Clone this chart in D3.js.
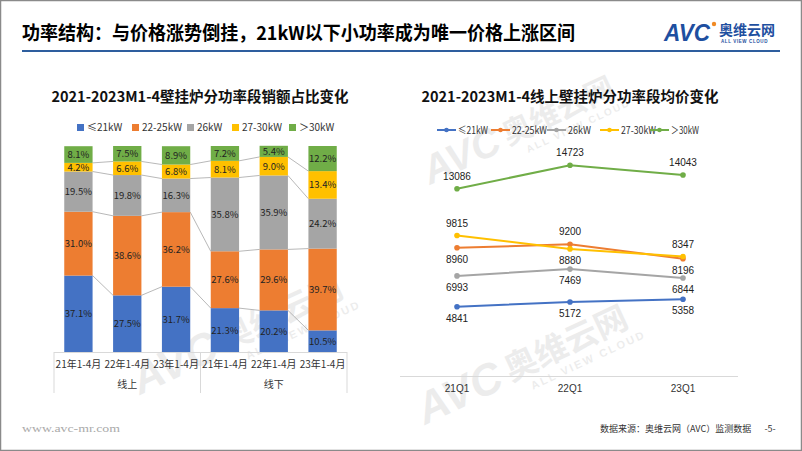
<!DOCTYPE html>
<html><head><meta charset="utf-8">
<script src="https://cdn.jsdelivr.net/npm/d3@7"></script>
<style>
html,body{margin:0;padding:0;background:#fff;}
svg{display:block;}
</style></head>
<body>
<svg id="c" width="802" height="451"></svg>
<script>
// ---- data ----
const segments = ["≤21kW","22-25kW","26kW","27-30kW","＞30kW"];
const segColors = ["#4472C4","#ED7D31","#A5A5A5","#FFC000","#70AD47"];
const barCats = ["21年1-4月","22年1-4月","23年1-4月","21年1-4月","22年1-4月","23年1-4月"];
const barGroups = ["线上","线下"];
const share_le21 = [37.1,27.5,31.7,21.3,20.2,10.5];
const share_22_25 = [31.0,38.6,36.2,27.6,29.6,39.7];
const share_26 = [19.5,19.8,16.3,35.8,35.9,24.2];
const share_27_30 = [4.2,6.6,6.8,8.1,9.0,13.4];
const share_gt30 = [8.1,7.5,8.9,7.2,5.4,12.2];
const lineCats = ["21Q1","22Q1","23Q1"];
const price_le21 = [4841,5172,5358];
const price_22_25 = [8960,9200,8196];
const price_26 = [6993,7469,6844];
const price_27_30 = [9815,8880,8347];
const price_gt30 = [13086,14723,14043];
// label placement: 1 above, -1 below
const priceLabelPos = [[-1,-1,-1],[-1,1,-1],[-1,-1,-1],[1,-1,1],[1,1,1]];

const svg = d3.select("#c");
const CJK = "'Noto Sans CJK SC','Noto Sans',sans-serif";

// frame
svg.append("rect").attr("x",0.5).attr("y",0.5).attr("width",801).attr("height",450)
  .attr("fill","#fff").attr("stroke","#8a8a8a").attr("stroke-width",1.5);

// watermarks
function watermark(x,y,s){
  const g = svg.append("g").attr("transform",`translate(${x},${y}) rotate(-25) scale(${s})`)
    .attr("opacity",0.07);
  g.append("text").attr("x",0).attr("y",0).attr("font-family","'Liberation Sans',sans-serif")
    .attr("font-weight","bold").attr("font-style","italic").attr("font-size",80).attr("fill","#000").text("AVC");
  g.append("text").attr("x",175).attr("y",-5).attr("font-family",CJK).attr("font-weight","bold")
    .attr("font-size",60).attr("fill","#000").text("奥维云网");
  g.append("text").attr("x",205).attr("y",25).attr("font-family","'Liberation Sans',sans-serif")
    .attr("font-weight","bold").attr("font-size",20).attr("letter-spacing",4).attr("fill","#000").text("ALL VIEW CLOUD");
}
watermark(140,395,0.55);
watermark(430,185,0.5);
watermark(425,425,0.55);

// header
svg.append("text").attr("x",22).attr("y",40).attr("font-family",CJK).attr("font-weight","bold")
  .attr("font-size",19).attr("fill","#000").attr("textLength",553).attr("lengthAdjust","spacingAndGlyphs")
  .text("功率结构：与价格涨势倒挂，21kW以下小功率成为唯一价格上涨区间");
svg.append("line").attr("x1",22).attr("x2",780).attr("y1",51).attr("y2",51)
  .attr("stroke","#2E5E9E").attr("stroke-width",2);
// logo
svg.append("text").attr("x",664).attr("y",41).attr("font-family","'Liberation Sans',sans-serif")
  .attr("font-weight","bold").attr("font-style","italic").attr("font-size",24).attr("fill","#1E4FA0")
  .attr("textLength",46).attr("lengthAdjust","spacingAndGlyphs").text("AVC");
svg.append("circle").attr("cx",714).attr("cy",24).attr("r",2.2).attr("fill","#F08A24");
svg.append("text").attr("x",719).attr("y",35).attr("font-family",CJK).attr("font-weight","bold")
  .attr("font-size",14).attr("fill","#1E4FA0").text("奥维云网");
svg.append("text").attr("x",721).attr("y",43).attr("font-family","'Liberation Sans',sans-serif")
  .attr("font-weight","bold").attr("font-size",4.5).attr("letter-spacing",0.6).attr("fill","#1E4FA0").text("ALL VIEW CLOUD");

// ---------- left stacked bar chart ----------
svg.append("text").attr("x",200).attr("y",102).attr("text-anchor","middle").attr("font-family",CJK)
  .attr("font-weight","bold").attr("font-size",14.5).attr("fill","#111").text("2021-2023M1-4壁挂炉分功率段销额占比变化");

const shareSeries = [share_le21,share_22_25,share_26,share_27_30,share_gt30];
const barRows = barCats.map((c,i)=>{const o={i};segments.forEach((s,k)=>o[s]=shareSeries[k][i]);return o;});
const stack = d3.stack().keys(segments)(barRows);
const xb = d3.scaleBand().domain(d3.range(barCats.length)).range([54,347]).paddingInner(0.42).paddingOuter(0.21);
const yb = d3.scaleLinear().domain([0,100]).range([352,146]);

// legend
const legX = [77,132,187,232,289];
segments.forEach((s,k)=>{
  svg.append("rect").attr("x",legX[k]).attr("y",124).attr("width",7).attr("height",7).attr("fill",segColors[k]);
  svg.append("text").attr("x",legX[k]+10).attr("y",131).attr("font-family",CJK).attr("font-size",10)
    .attr("fill","#333").text(s);
});

// series lines
const bw = xb.bandwidth();
stack.forEach((layer,k)=>{
  if(k===stack.length-1) return;
  for(let i=0;i<layer.length-1;i++){
    svg.append("line").attr("x1",xb(i)+bw).attr("x2",xb(i+1))
      .attr("y1",yb(layer[i][1])).attr("y2",yb(layer[i+1][1]))
      .attr("stroke","#A6A6A6").attr("stroke-width",0.8);
  }
});
stack.forEach((layer,k)=>{
  const g = svg.append("g");
  g.selectAll("rect").data(layer).join("rect")
    .attr("x",(d,i)=>xb(i)).attr("width",bw)
    .attr("y",d=>yb(d[1])).attr("height",d=>yb(d[0])-yb(d[1]))
    .attr("fill",segColors[k]);
  g.selectAll("text").data(layer).join("text")
    .attr("x",(d,i)=>xb(i)+bw/2).attr("y",d=>(yb(d[0])+yb(d[1]))/2+3.5)
    .attr("text-anchor","middle").attr("font-family",CJK).attr("font-size",9.5).attr("fill","#222")
    .text(d=>(d[1]-d[0]).toFixed(1)+"%");
});
// category axis
svg.append("line").attr("x1",54).attr("x2",347).attr("y1",352.5).attr("y2",352.5).attr("stroke","#D9D9D9");
[54,200.5,347].forEach(x=>svg.append("line").attr("x1",x).attr("x2",x).attr("y1",352).attr("y2",393)
  .attr("stroke","#D9D9D9"));
barCats.forEach((c,i)=>svg.append("text").attr("x",xb(i)+bw/2).attr("y",368).attr("text-anchor","middle")
  .attr("font-family",CJK).attr("font-size",10).attr("fill","#333").text(c));
barGroups.forEach((g,j)=>svg.append("text").attr("x",(xb(j*3+1)+bw/2)).attr("y",388).attr("text-anchor","middle")
  .attr("font-family",CJK).attr("font-size",10).attr("fill","#333").text(g));

// ---------- right line chart ----------
svg.append("text").attr("x",570).attr("y",102).attr("text-anchor","middle").attr("font-family",CJK)
  .attr("font-weight","bold").attr("font-size",14.5).attr("fill","#111").text("2021-2023M1-4线上壁挂炉分功率段均价变化");
const xl = d3.scalePoint().domain(lineCats).range([457,683]);
const yl = d3.scaleLinear().domain([0,16000]).range([376,147]);
svg.append("line").attr("x1",400).attr("x2",738).attr("y1",376.5).attr("y2",376.5).attr("stroke","#D9D9D9");
lineCats.forEach(c=>svg.append("text").attr("x",xl(c)).attr("y",392).attr("text-anchor","middle")
  .attr("font-family","'Liberation Sans',sans-serif").attr("font-size",10).attr("fill","#333").text(c));

const lineLegX = [437,491,547,600,650];
const lineLegW = [30,35,23,35,28];
segments.forEach((s,k)=>{
  svg.append("line").attr("x1",lineLegX[k]).attr("x2",lineLegX[k]+19).attr("y1",130).attr("y2",130)
    .attr("stroke",segColors[k]).attr("stroke-width",2);
  svg.append("circle").attr("cx",lineLegX[k]+9.5).attr("cy",130).attr("r",2.3).attr("fill",segColors[k]);
  svg.append("text").attr("x",lineLegX[k]+21).attr("y",133.8).attr("font-family",CJK).attr("font-size",10.5)
    .attr("textLength",lineLegW[k]).attr("lengthAdjust","spacingAndGlyphs")
    .attr("fill","#333").text(s);
});
const priceSeries = [price_le21,price_22_25,price_26,price_27_30,price_gt30];
const lineGen = d3.line().x((d,i)=>xl(lineCats[i])).y(d=>yl(d));
priceSeries.forEach((vals,k)=>{
  svg.append("path").attr("d",lineGen(vals)).attr("fill","none").attr("stroke",segColors[k]).attr("stroke-width",2);
  svg.selectAll(null).data(vals).join("circle").attr("cx",(d,i)=>xl(lineCats[i])).attr("cy",d=>yl(d))
    .attr("r",2.8).attr("fill",segColors[k]);
});
priceSeries.forEach((vals,k)=>{
  svg.selectAll(null).data(vals).join("text")
    .attr("x",(d,i)=>xl(lineCats[i])).attr("y",(d,i)=>yl(d)+(priceLabelPos[k][i]>0?-9:15))
    .attr("text-anchor","middle").attr("font-family","'Liberation Sans',sans-serif").attr("font-size",10)
    .attr("fill","#222").text(d=>d);
});

// footer
svg.append("text").attr("x",22).attr("y",432).attr("font-family","'Liberation Serif',serif").attr("font-size",11)
  .attr("textLength",98).attr("lengthAdjust","spacingAndGlyphs")
  .attr("fill","#aaa").text("www.avc-mr.com");
svg.append("text").attr("x",600).attr("y",432).attr("font-family",CJK).attr("font-size",9).attr("fill","#333")
  .text("数据来源：奥维云网（AVC）监测数据");
svg.append("text").attr("x",770).attr("y",432).attr("text-anchor","middle").attr("font-family",CJK).attr("font-size",9)
  .attr("fill","#333").text("-5-");
</script>
</body></html>
